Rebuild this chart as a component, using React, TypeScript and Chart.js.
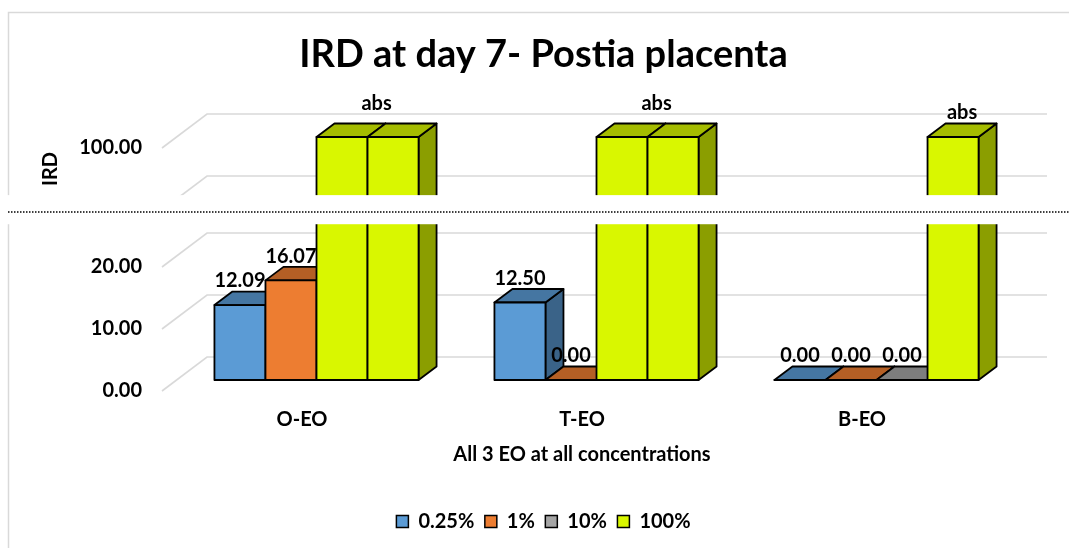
import React, { useEffect, useRef } from 'react';
import { Chart, registerables, LinearScale } from 'chart.js';

// ---------------- data ----------------
const CATEGORIES = ['O-EO', 'T-EO', 'B-EO'];
const SERIES_NAMES = ['0.25%', '1%', '10%', '100%'];
const VALUES_025 = [12.09, 12.5, 0];
const VALUES_1 = [16.07, 0, 0];
const VALUES_10 = [100, 100, 0];
const VALUES_100 = [100, 100, 100];
const LABELS_10 = ['', '', '0.00'];
const LABELS_100 = ['abs', 'abs', 'abs'];
const Y_TICKS = [0, 10, 20, 90, 100];
const Y_MIN = 0;
const Y_MAX = 103;
// axis break (values)
const BREAK_FROM = 27;
const BREAK_TO = 90;
const BREAK_VISIBLE_LOW = 26.9;
const BREAK_VISIBLE_HIGH = 92.4;

const TITLE = 'IRD at day 7- Postia placenta';
const Y_TITLE = 'IRD';
const X_TITLE = 'All 3 EO at all concentrations';

// ---------------- styles ----------------
const SERIES_COLORS = ['#5b9bd5', '#ed7d31', '#a5a5a5', '#d9f700'];
const POINT_COLORS_10 = ['#d9f700', '#d9f700', '#a5a5a5'];
const FONT_FAMILY = 'Lato, "Open Sans", "Liberation Sans", sans-serif';
const FONT_SIZE = 20;
const BREAK_GAP_PX = 13.6;
const DEPTH = { x: 45, y: 34 };
const BAR_OFFSET = { x: 14.5, y: 11 };
const BAR_DEPTH = { x: 18, y: 13.5 };
const ABS_Y_SHIFT = [-9, -9, 0];
const GRID_COLOR = '#d9d9d9';

const fmt = (v: number) => v.toFixed(2);
const LABEL_TEXTS = [VALUES_025.map(fmt), VALUES_1.map(fmt), LABELS_10, LABELS_100];

function shade(color: string, f: number) {
  const n = parseInt(color.slice(1), 16);
  const r = Math.round(((n >> 16) & 255) * f);
  const g = Math.round(((n >> 8) & 255) * f);
  const b = Math.round((n & 255) * f);
  return `rgb(${r},${g},${b})`;
}

class BrokenLinearScale extends LinearScale {
  static id = 'brokenLinear';
  static defaults = {};
  _k() {
    const s: any = this;
    return (s._length - BREAK_GAP_PX) / ((BREAK_FROM - s.min) + (s.max - BREAK_TO));
  }
  getPixelForValue(value: any) {
    const s: any = this;
    if (value === null || value === undefined || isNaN(value)) return NaN;
    const h = s._length;
    const k = this._k();
    const lowLen = (BREAK_FROM - s.min) * k;
    let d;
    if (value <= BREAK_FROM) d = (value - s.min) * k;
    else if (value < BREAK_TO) d = lowLen + ((value - BREAK_FROM) / (BREAK_TO - BREAK_FROM)) * BREAK_GAP_PX;
    else d = lowLen + BREAK_GAP_PX + (value - BREAK_TO) * k;
    return s.getPixelForDecimal(d / h);
  }
  getValueForPixel(pixel: number) {
    const s: any = this;
    const h = s._length;
    const k = this._k();
    const lowLen = (BREAK_FROM - s.min) * k;
    const d = s.getDecimalForPixel(pixel) * h;
    if (d <= lowLen) return s.min + d / k;
    if (d < lowLen + BREAK_GAP_PX) return BREAK_FROM + ((d - lowLen) / BREAK_GAP_PX) * (BREAK_TO - BREAK_FROM);
    return BREAK_TO + (d - lowLen - BREAK_GAP_PX) / k;
  }
}

Chart.register(...registerables, BrokenLinearScale as any);

function poly(ctx: CanvasRenderingContext2D, pts: number[][], fill: string) {
  ctx.beginPath();
  ctx.moveTo(pts[0][0], pts[0][1]);
  for (let i = 1; i < pts.length; i++) ctx.lineTo(pts[i][0], pts[i][1]);
  ctx.closePath();
  ctx.fillStyle = fill;
  ctx.fill();
  ctx.stroke();
}

const threeDPlugin = {
  id: 'threeD',
  beforeDraw(chart: any) {
    const { ctx, width, height } = chart;
    ctx.save();
    ctx.fillStyle = '#fff';
    ctx.fillRect(0, 0, width, height);
    ctx.strokeStyle = GRID_COLOR;
    ctx.lineWidth = 1.5;
    ctx.beginPath();
    ctx.moveTo(8.5, height);
    ctx.lineTo(8.5, 12.5);
    ctx.lineTo(width, 12.5);
    ctx.stroke();
    ctx.restore();
  },
  beforeDatasetsDraw(chart: any) {
    const { ctx, chartArea: a, scales } = chart;
    const y = scales.y;
    ctx.save();
    ctx.strokeStyle = GRID_COLOR;
    ctx.lineWidth = 1.6;
    y.ticks.forEach((t: any) => {
      const py = y.getPixelForValue(t.value);
      ctx.beginPath();
      ctx.moveTo(a.left, py);
      ctx.lineTo(a.left + DEPTH.x, py - DEPTH.y);
      ctx.lineTo(a.right + DEPTH.x, py - DEPTH.y);
      ctx.stroke();
    });
    ctx.restore();
  },
  beforeDatasetDraw() {
    return false;
  },
  afterDatasetsDraw(chart: any) {
    const { ctx } = chart;
    const metas = chart.getSortedVisibleDatasetMetas();
    ctx.save();
    ctx.lineWidth = 1.8;
    ctx.strokeStyle = '#000';
    ctx.lineJoin = 'round';
    for (let i = 0; i < CATEGORIES.length; i++) {
      for (const meta of metas) {
        const el = meta.data[i];
        if (!el) continue;
        const color = el.options.backgroundColor;
        const xl = el.x - el.width / 2 + BAR_OFFSET.x;
        const xr = el.x + el.width / 2 + BAR_OFFSET.x;
        const yt = el.y - BAR_OFFSET.y;
        const yb = el.base - BAR_OFFSET.y;
        const dx = BAR_DEPTH.x;
        const dy = BAR_DEPTH.y;
        poly(ctx, [[xr, yb], [xr + dx, yb - dy], [xr + dx, yt - dy], [xr, yt]], shade(color, 0.64));
        poly(ctx, [[xl, yt], [xr, yt], [xr + dx, yt - dy], [xl + dx, yt - dy]], shade(color, 0.76));
        poly(ctx, [[xl, yb], [xr, yb], [xr, yt], [xl, yt]], color);
      }
    }
    // data labels
    ctx.font = `bold ${FONT_SIZE}px ${FONT_FAMILY}`;
    ctx.fillStyle = '#000';
    ctx.textAlign = 'center';
    ctx.textBaseline = 'middle';
    metas.forEach((meta: any) => {
      const ds = meta.index;
      meta.data.forEach((el: any, i: number) => {
        const text = LABEL_TEXTS[ds][i];
        if (!text) return;
        let cx = el.x + BAR_OFFSET.x;
        let cy = el.y - BAR_OFFSET.y - BAR_DEPTH.y - 10.5;
        if (ds === 3) {
          let left = el.x - el.width / 2;
          if (VALUES_10[i] === VALUES_100[i]) left -= el.width;
          cx = (left + el.x + el.width / 2) / 2 + BAR_OFFSET.x + BAR_DEPTH.x / 2;
          cy += ABS_Y_SHIFT[i];
        }
        ctx.fillText(text, cx, cy);
      });
    });
    ctx.restore();
  },
  afterDraw(chart: any) {
    const { ctx, width } = chart;
    const y = chart.scales.y;
    const yTop = y.getPixelForValue(BREAK_VISIBLE_HIGH);
    const yBot = y.getPixelForValue(BREAK_VISIBLE_LOW);
    ctx.save();
    ctx.fillStyle = '#fff';
    ctx.fillRect(0, yTop, width, yBot - yTop);
    ctx.strokeStyle = '#000';
    ctx.lineWidth = 1.5;
    ctx.setLineDash([1.5, 1.5]);
    const ly = yTop + (yBot - yTop) * 0.58;
    ctx.beginPath();
    ctx.moveTo(8, ly);
    ctx.lineTo(width, ly);
    ctx.stroke();
    ctx.setLineDash([]);
    // y axis title
    ctx.translate(51, 169);
    ctx.rotate(-Math.PI / 2);
    ctx.font = `bold ${FONT_SIZE}px ${FONT_FAMILY}`;
    ctx.fillStyle = '#000';
    ctx.textAlign = 'center';
    ctx.textBaseline = 'middle';
    ctx.fillText(Y_TITLE, 0, 0);
    ctx.restore();
  },
};

export default function App() {
  const ref = useRef<HTMLCanvasElement | null>(null);
  useEffect(() => {
    document.body.style.margin = '0';
    let chart: any = null;
    let cancelled = false;
    const make = () => {
      if (cancelled || !ref.current) return;
      const font = { family: FONT_FAMILY, size: FONT_SIZE, weight: 'bold' as const };
      chart = new Chart(ref.current, {
        type: 'bar',
        data: {
          labels: CATEGORIES,
          datasets: [
            { label: SERIES_NAMES[0], data: VALUES_025, backgroundColor: SERIES_COLORS[0], borderColor: '#000', borderWidth: 1.5 },
            { label: SERIES_NAMES[1], data: VALUES_1, backgroundColor: SERIES_COLORS[1], borderColor: '#000', borderWidth: 1.5 },
            { label: SERIES_NAMES[2], data: VALUES_10, backgroundColor: POINT_COLORS_10, borderColor: '#000', borderWidth: 1.5 },
            { label: SERIES_NAMES[3], data: VALUES_100, backgroundColor: SERIES_COLORS[3], borderColor: '#000', borderWidth: 1.5 },
          ],
        },
        options: {
          responsive: false,
          animation: false,
          devicePixelRatio: 1,
          categoryPercentage: 0.729,
          barPercentage: 1,
          layout: { padding: { top: 12, left: 30, right: 12, bottom: 6.5 } },
          plugins: {
            title: {
              display: true,
              text: TITLE,
              color: '#000',
              font: { family: FONT_FAMILY, size: 38, weight: 'bold' },
              padding: { top: 20.2, bottom: 51.6 },
            },
            legend: {
              position: 'bottom',
              labels: {
                font,
                color: '#000',
                boxWidth: 12,
                boxHeight: 12,
                padding: 10.5,
                generateLabels: (c: any) =>
                  c.data.datasets.map((ds: any, i: number) => ({
                    text: ds.label,
                    fillStyle: SERIES_COLORS[i],
                    strokeStyle: '#000',
                    lineWidth: 1.5,
                    hidden: !c.isDatasetVisible(i),
                    datasetIndex: i,
                    fontColor: '#000',
                  })),
              },
            },
            tooltip: { enabled: false },
          },
          scales: {
            x: {
              grid: { display: false, drawTicks: false },
              border: { display: false },
              ticks: { font, color: '#000', padding: 17 },
              title: { display: true, text: X_TITLE, font, color: '#000', padding: { top: 0, bottom: 34 } },
              afterFit: (s: any) => {
                s.height = 110;
              },
            },
            y: {
              type: 'brokenLinear' as any,
              min: Y_MIN,
              max: Y_MAX,
              grid: { display: false, drawTicks: false },
              border: { display: false },
              ticks: { font, color: '#000', padding: 20, callback: (v: any) => Number(v).toFixed(2) },
              afterBuildTicks: (s: any) => {
                s.ticks = Y_TICKS.map((v) => ({ value: v }));
              },
              afterFit: (s: any) => {
                s.width = 132;
              },
            },
            // right-hand spacer keeps the plot's right edge where the wall ends
            yRight: {
              type: 'linear',
              position: 'right',
              display: true,
              grid: { display: false, drawTicks: false },
              border: { display: false },
              ticks: { display: false },
              afterFit: (s: any) => {
                s.width = 55;
              },
            },
          },
        },
        plugins: [threeDPlugin],
      } as any);
    };
    const fonts: any = (document as any).fonts;
    if (fonts && fonts.load) {
      Promise.all([fonts.load(`bold 20px Lato`), fonts.load(`bold 38px Lato`)]).then(make, make);
    } else {
      make();
    }
    return () => {
      cancelled = true;
      if (chart) chart.destroy();
    };
  }, []);
  return (
    <div style={{ width: 1069, height: 548 }}>
      <canvas ref={ref} width={1069} height={548} style={{ display: 'block' }} />
    </div>
  );
}
